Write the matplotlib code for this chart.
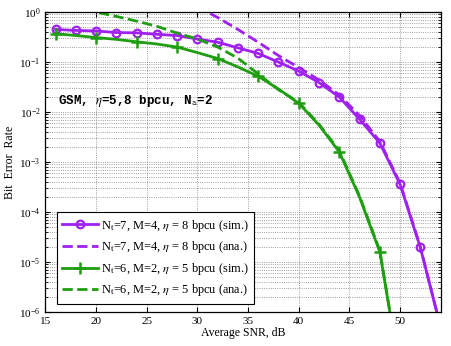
import numpy as np
import matplotlib
matplotlib.use("Agg")
import matplotlib.pyplot as plt

plt.rcParams['font.family'] = ['Liberation Serif', 'DejaVu Serif']
plt.rcParams['mathtext.fontset'] = 'stix'

# SNR grid (dB)
snr = [16, 18, 20, 22, 24, 26, 28, 30, 32, 34, 36, 38, 40, 42, 44, 46, 48, 50, 52, 54]

# Nt=7, M=4, 8 bpcu
ber_p_sim = [0.45, 0.43, 0.42, 0.39, 0.385, 0.36, 0.34, 0.29, 0.25, 0.193,
             0.149, 0.10, 0.066, 0.039, 0.020, 0.0072, 0.0024, 3.6e-4, 1.96e-5, 5e-7]
snr_p_ana = [30, 31, 32, 34, 36, 38, 40, 42, 44, 46, 48, 50, 52, 54]
ber_p_ana = [1.3, 1.0, 0.78, 0.45, 0.25, 0.135, 0.078, 0.044, 0.022, 0.0085,
             0.0026, 3.8e-4, 2.0e-5, 5e-7]

# Nt=6, M=2, 5 bpcu
snr_g = [16, 18, 20, 22, 24, 26, 28, 30, 32, 34, 36, 38, 40, 42, 44, 46, 48, 50]
ber_g_sim = [0.37, 0.34, 0.31, 0.285, 0.255, 0.23, 0.20, 0.155, 0.118, 0.08,
             0.052, 0.029, 0.015, 0.0055, 0.0016, 2.0e-4, 1.6e-5, 6e-8]
snr_g_ana = [19, 20, 22, 24, 26, 28, 30, 32, 34, 36, 38, 40, 42, 44, 46, 48, 50]
ber_g_ana = [1.3, 1.0, 0.82, 0.66, 0.52, 0.38, 0.29, 0.2, 0.12, 0.058, 0.028,
             0.0158, 0.0057, 0.0017, 2.1e-4, 1.7e-5, 6e-8]

purple = '#A020F0'
green = '#1E9E10'

fig = plt.figure(figsize=(4.52, 3.46), dpi=100)
ax = fig.add_axes([0.1004, 0.098, 0.8744, 0.867])

ax.semilogy(snr, ber_p_sim, '-o', color=purple, lw=2, ms=5.5, mfc='none', mew=1.6,
            label=r'N$_\mathrm{t}$=7, M=4, $\eta$ = 8 bpcu (sim.)')
ax.semilogy(snr_p_ana, ber_p_ana, '--', color=purple, lw=2,
            label=r'N$_\mathrm{t}$=7, M=4, $\eta$ = 8 bpcu (ana.)')
ax.semilogy(snr_g, ber_g_sim, '-+', color=green, lw=2, ms=8, mew=1.8, markevery=2,
            label=r'N$_\mathrm{t}$=6, M=2, $\eta$ = 5 bpcu (sim.)')
ax.semilogy(snr_g_ana, ber_g_ana, '--', color=green, lw=2,
            label=r'N$_\mathrm{t}$=6, M=2, $\eta$ = 5 bpcu (ana.)')

ax.set_xlim(15, 54)
ax.set_ylim(1e-6, 1)
ax.set_xticks([15, 20, 25, 30, 35, 40, 45, 50])
ax.tick_params(which='both', direction='in', top=True, right=True, labelsize=8)
ax.grid(True, which='major', ls=':', lw=0.6, color='0.5')
ax.grid(True, which='minor', axis='y', ls=':', lw=0.6, color='0.5')
for s in ax.spines.values():
    s.set_linewidth(0.9)

ax.set_xlabel('Average SNR, dB', fontsize=8.5, labelpad=1)
ax.set_ylabel('Bit  Error  Rate', fontsize=8.5, labelpad=2)

ax.text(0.032, 0.695, r'GSM, $\eta$=5,8 bpcu, N$_\mathtt{a}$=2', transform=ax.transAxes,
        family='Liberation Mono', fontweight='bold', fontsize=9)

leg = ax.legend(loc='lower left', bbox_to_anchor=(0.029, 0.027), borderaxespad=0,
                fontsize=8.9, handlelength=2.9, handletextpad=0.2, labelspacing=0.45,
                borderpad=0.45, fancybox=False, framealpha=1, edgecolor='black')
leg.get_frame().set_linewidth(0.8)

fig.savefig('out.png', dpi=100)
